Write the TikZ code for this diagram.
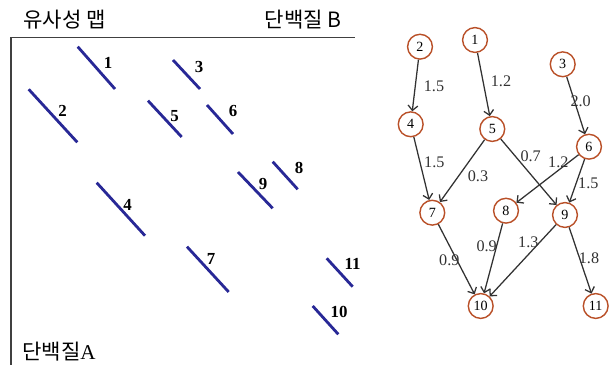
\documentclass[tikz,border=0pt]{standalone}
\usepackage{fontspec}
\setmainfont{Liberation Serif}
\newfontfamily\kofont{Noto Sans CJK KR}
\usetikzlibrary{arrows.meta}
\definecolor{segblue}{RGB}{40,40,150}
\definecolor{nodered}{RGB}{185,80,40}
\definecolor{edgegray}{RGB}{50,50,50}
\tikzset{seg/.style={segblue,line width=2pt},
 seglab/.style={font=\bfseries\fontsize{12}{12}\selectfont,inner sep=0pt},
 res/.style={circle,draw=nodered,line width=1pt,minimum size=0.62cm,inner sep=0pt,font=\fontsize{10}{10}\selectfont},
 link/.style={edgegray,line width=0.9pt,-{Straight Barb[length=3.5pt,width=7pt]}},
 wlab/.style={text=edgegray,font=\fontsize{11.5}{11.5}\selectfont,inner sep=0pt},
 ttl/.style={font=\kofont\fontsize{15}{15}\selectfont,inner sep=0pt}}

\begin{document}
\begin{tikzpicture}[x=0.025cm,y=-0.025cm]
	\useasboundingbox (0,0) rectangle (613,365);
	
	% similarity map
	\draw[line width=1pt,black!75] (11,365)--(11,37.5)--(355,37.5);
	\node[ttl,anchor=west] (maptitle) at (23,20) {유사성 맵};
	\node[ttl,anchor=east] (protb) at (342,20) {단백질 B};
	\node[ttl,anchor=west] (prota) at (22,352) {단백질\fontspec{Liberation Serif}A};
	
	\draw[seg] (77.7,46.7)--(115,89) (173,60)--(200,89)
	 (28.7,89.3)--(77.3,142.3) (148,100.7)--(181.7,137)
	 (207,105)--(233,134) (272.7,161.7)--(297.7,189.3)
	 (238,172)--(272.7,208.3) (96.7,182.7)--(145,235.7)
	 (187,246.7)--(228.7,292) (326.7,258.3)--(352.7,286.7)
	 (312.7,306)--(338.3,334.3);
	\node[seglab] (s1) at (108,63) {1};
	\node[seglab] (s3) at (199,67) {3};
	\node[seglab] (s2) at (62.7,111) {2};
	\node[seglab] (s5) at (174.7,116) {5};
	\node[seglab] (s6) at (233,111) {6};
	\node[seglab] (s8) at (299,168) {8};
	\node[seglab] (s9) at (263,184) {9};
	\node[seglab] (s4) at (127.7,205) {4};
	\node[seglab] (s7) at (211,259) {7};
	\node[seglab] (s11) at (352.7,264.3) {11};
	\node[seglab] (s10) at (339,312.3) {10};
	
	% graph
	\node[res] (n1) at (475,40) {1};
	\node[res] (n2) at (420,46.7) {2};
	\node[res] (n3) at (562.7,64.3) {3};
	\node[res] (n4) at (410.7,124.3) {4};
	\node[res] (n5) at (492.3,129) {5};
	\node[res] (n6) at (589,146.7) {6};
	\node[res] (n7) at (432.3,212.7) {7};
	\node[res] (n8) at (506,210.7) {8};
	\node[res] (n9) at (565,215) {9};
	\node[res] (n10) at (480.7,306) {10};
	\node[res] (n11) at (595.7,306) {11};
	
	\draw[link] (n2)--(n4);
	\draw[link] (n1)--(n5);
	\draw[link] (n3)--(n6);
	\draw[link] (n4)--(n7);
	\draw[link] (n5)--(n7);
	\draw[link] (n5)--(n9);
	\draw[link] (n6)--(n8);
	\draw[link] (n6)--(n9);
	\draw[link] (n7)--(n10);
	\draw[link] (n8)--(n10);
	\draw[link] (n9)--(n10);
	\draw[link] (n9)--(n11);
	
	\node[wlab] at (434,86.7) {1.5};
	\node[wlab] at (501,81) {1.2};
	\node[wlab] at (580.7,101.7) {2.0};
	\node[wlab] at (434.3,162.7) {1.5};
	\node[wlab] at (478,176) {0.3};
	\node[wlab] at (530.7,156.7) {0.7};
	\node[wlab] at (558.3,162.7) {1.2};
	\node[wlab] at (588.3,183.3) {1.5};
	\node[wlab] at (449.3,260) {0.9};
	\node[wlab] at (486.7,246.7) {0.9};
	\node[wlab] at (528.3,242.7) {1.3};
	\node[wlab] at (589,258.3) {1.8};
\end{tikzpicture}
\end{document}
